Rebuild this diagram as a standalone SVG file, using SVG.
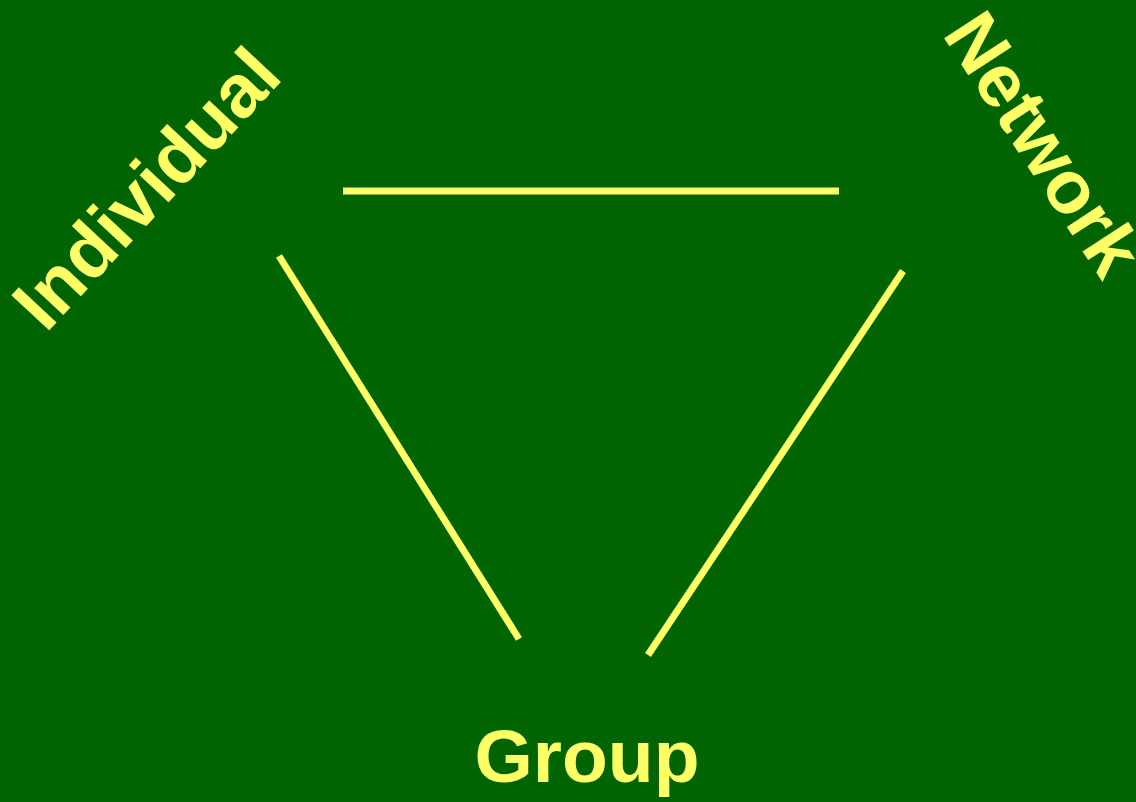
<svg xmlns="http://www.w3.org/2000/svg" width="1136" height="802" viewBox="0 0 1136 802">
<style>
.lbl{font-family:"Liberation Sans",Arial,sans-serif;font-weight:bold;font-size:75px;fill:#FFFF66;text-anchor:middle}
.edge{stroke:#FFFF66;stroke-width:7;fill:none}
</style>
<rect x="0" y="0" width="1136" height="802" fill="#006400"/>
<g id="connectors">
<line class="edge" x1="343" y1="191" x2="839" y2="191"/>
<line class="edge" x1="279" y1="256" x2="519" y2="639"/>
<line class="edge" x1="903" y1="271" x2="648" y2="655"/>
</g>
<g id="individual"><text class="lbl" transform="translate(165,206) rotate(-47)">Individual</text></g>
<g id="network"><text class="lbl" transform="translate(1022,158) rotate(57)">Network</text></g>
<g id="group"><text class="lbl" x="587" y="782">Group</text></g>
</svg>
